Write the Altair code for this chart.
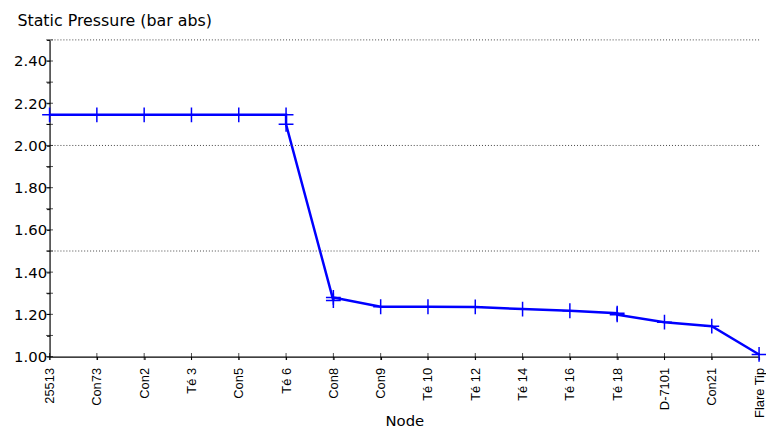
import json
import altair as alt
import pandas as pd

# ---- data ----
nodes = ["25513", "Con73", "Con2", "Té 3", "Con5", "Té 6", "Con8", "Con9",
         "Té 10", "Té 12", "Té 14", "Té 16", "Té 18", "D-7101", "Con21", "Flare Tip"]
# profile points (a node can carry an inlet and an outlet value)
point_node = [0, 1, 2, 3, 4, 5, 5, 6, 6, 7, 8, 9, 10, 11, 12, 12, 13, 14, 15]
pressure = [2.145, 2.145, 2.145, 2.145, 2.145, 2.145, 2.10, 1.265, 1.28, 1.236,
            1.236, 1.235, 1.225, 1.217, 1.205, 1.198, 1.163, 1.144, 1.01]
limit_lines = [2.5, 2.0, 1.5]
y_ticks = [1.0, 1.1, 1.2, 1.3, 1.4, 1.5, 1.6, 1.7, 1.8, 1.9, 2.0, 2.1, 2.2, 2.3, 2.4, 2.5]
x_ticks = list(range(len(nodes)))

PLOT_W, PLOT_H = 717, 320

df = pd.DataFrame({"seq": list(range(len(point_node))), "idx": point_node, "p": pressure})
lim_df = pd.DataFrame({"p": limit_lines})
ytick_df = pd.DataFrame({"p": y_ticks})
xtick_df = pd.DataFrame({"idx": x_ticks})

x_scale = alt.Scale(domain=[0, len(nodes) - 1], nice=False, zero=False)
y_scale = alt.Scale(domain=[1.0, 2.5], nice=False, zero=False)

x_axis = alt.Axis(
    values=x_ticks,
    labelExpr=json.dumps(nodes, ensure_ascii=False) + "[datum.value]",
    labelAngle=270, labelFont="Liberation Sans", labelFontSize=13, labelColor="black",
    labelPadding=8, labelFlush=False, labelOverlap=False,
    tickSize=3, tickColor="black", domainColor="black", domainWidth=1.2, grid=False,
    title="Node", titleFont="DejaVu Sans", titleFontSize=15, titleFontWeight="normal",
    titleColor="black", titleY=70, titleBaseline="alphabetic",
)
y_axis = alt.Axis(
    values=y_ticks,
    labelExpr="(round(datum.value*10) % 2 == 0 && datum.value < 2.45) ? format(datum.value, '.2f') : ''",
    labelFont="DejaVu Sans", labelFontSize=15, labelColor="black", labelPadding=0,
    labelFlush=False, labelOverlap=False,
    tickSize=3, tickColor="black", domainColor="black", domainWidth=1.2, grid=False,
    title="Static Pressure (bar abs)", titleAngle=0, titleAlign="left",
    titleBaseline="alphabetic", titleX=-33, titleY=-15,
    titleFont="DejaVu Sans", titleFontSize=16, titleFontWeight="normal", titleColor="black",
)

X = alt.X("idx:Q", scale=x_scale, axis=x_axis, title="Node")
Y = alt.Y("p:Q", scale=y_scale, axis=y_axis, title="Static Pressure (bar abs)")

line = alt.Chart(df).mark_line(color="#0000FF", strokeWidth=2.5).encode(
    x=X, y=Y, order=alt.Order("seq:Q"),
)
points = alt.Chart(df).mark_point(
    shape="M-1,0L1,0M0,-1L0,1", filled=False, size=225, strokeWidth=1.5,
    color="#0000FF", opacity=1,
).encode(x=X, y=Y)

limits = alt.Chart(lim_df).mark_rule(color="#444444", strokeDash=[1, 2], strokeWidth=1).encode(y=Y)

# inner halves of the crossing axis ticks
ytick_marks = alt.Chart(ytick_df).mark_tick(orient="horizontal", size=7, thickness=1, color="black").encode(
    y=Y, x=alt.value(0),
)
xtick_marks = alt.Chart(xtick_df).mark_tick(orient="vertical", size=7, thickness=1, color="black").encode(
    x=X, y=alt.value(PLOT_H),
)

chart = alt.layer(line, limits, ytick_marks, xtick_marks, points).properties(
    width=PLOT_W, height=PLOT_H,
    autosize=alt.AutoSizeParams(type="none"),
    padding={"left": 42, "top": 30, "right": 7, "bottom": 74},
    background="white",
).configure_view(stroke=None)

chart.save("out.html", embed_options={"renderer": "svg", "actions": False})
